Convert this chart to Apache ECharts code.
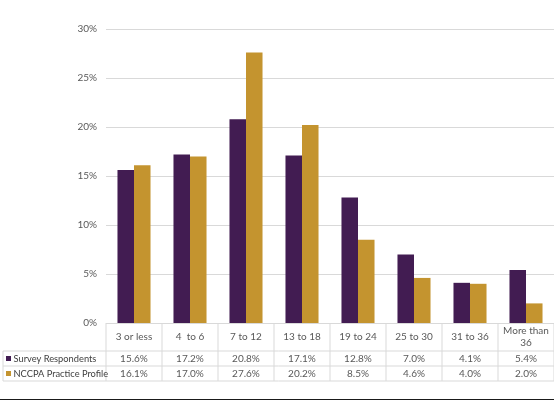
<!DOCTYPE html>
<html><head><meta charset="utf-8">
<script src="https://cdn.jsdelivr.net/npm/echarts@6/dist/echarts.min.js"></script>
<style>html,body{margin:0;padding:0;background:#fff}#c{width:554px;height:401px}</style>
</head><body><div id="c"></div>
<script>
const categories = ['3 or less', '4  to 6', '7 to 12', '13 to 18', '19 to 24', '25 to 30', '31 to 36', 'More than\n36'];
const seriesNames = ['Survey Respondents', 'NCCPA Practice Profile'];
const survey = [15.6, 17.2, 20.8, 17.1, 12.8, 7.0, 4.1, 5.4];
const nccpa = [16.1, 17.0, 27.6, 20.2, 8.5, 4.6, 4.0, 2.0];
const yTicks = [0, 5, 10, 15, 20, 25, 30];
const colors = ['#421c52', '#c4942f'];

const FONT = 'Lato';
const TXT = '#595959';
const LINE = '#d9d9d9';
const chart = echarts.init(document.getElementById('c'));
const gridL = 106, gridT = 29, gridW = 448, gridH = 294;
chart.setOption({
  animation: false,
  textStyle: { fontFamily: FONT },
  grid: { left: gridL, top: gridT, width: gridW, height: gridH },
  xAxis: { type: 'category', data: categories, axisLine: { show: false }, axisTick: { show: false }, axisLabel: { show: false } },
  yAxis: { type: 'value', min: yTicks[0], max: yTicks[yTicks.length - 1], interval: 5,
    axisLabel: { formatter: v => v + '%', color: TXT, fontSize: 10, fontFamily: FONT, margin: 9 },
    splitLine: { lineStyle: { color: LINE, width: 1 } } },
  series: [
    { name: seriesNames[0], type: 'bar', data: survey, itemStyle: { color: colors[0] }, barGap: '0%', barCategoryGap: '41%' },
    { name: seriesNames[1], type: 'bar', data: nccpa, itemStyle: { color: colors[1] }, barGap: '0%', barCategoryGap: '41%' }
  ]
});

// data table under the plot
const g = [];
const y0 = chart.convertToPixel({ yAxisIndex: 0 }, 0);
const rowH = [y0, 351, 366, 381];
const colW = gridW / categories.length;
const left0 = 3;
const lineStyle = { stroke: LINE, lineWidth: 1 };
g.push({ type: 'line', shape: { x1: left0, y1: rowH[1], x2: gridL + gridW, y2: rowH[1] }, style: lineStyle });
g.push({ type: 'line', shape: { x1: left0, y1: rowH[2], x2: gridL + gridW, y2: rowH[2] }, style: lineStyle });
g.push({ type: 'line', shape: { x1: left0, y1: rowH[3], x2: gridL + gridW, y2: rowH[3] }, style: lineStyle });
g.push({ type: 'line', shape: { x1: left0, y1: rowH[1], x2: left0, y2: rowH[3] }, style: lineStyle });
for (let i = 0; i <= categories.length; i++) {
  const x = gridL + i * colW;
  g.push({ type: 'line', shape: { x1: x, y1: rowH[0], x2: x, y2: rowH[3] }, style: lineStyle });
}
categories.forEach((c, i) => {
  const cx = chart.convertToPixel({ xAxisIndex: 0 }, i);
  g.push({ type: 'text', x: cx, y: (rowH[0] + rowH[1]) / 2, style: { text: c, fill: TXT, font: '10px ' + FONT, align: 'center', verticalAlign: 'middle', lineHeight: 12 } });
  g.push({ type: 'text', x: cx, y: (rowH[1] + rowH[2]) / 2, style: { text: survey[i].toFixed(1) + '%', fill: TXT, font: '10px ' + FONT, align: 'center', verticalAlign: 'middle' } });
  g.push({ type: 'text', x: cx, y: (rowH[2] + rowH[3]) / 2, style: { text: nccpa[i].toFixed(1) + '%', fill: TXT, font: '10px ' + FONT, align: 'center', verticalAlign: 'middle' } });
});
seriesNames.forEach((n, k) => {
  const cy = (rowH[k + 1] + rowH[k + 2]) / 2;
  g.push({ type: 'rect', shape: { x: 6, y: cy - 2.5, width: 5, height: 5 }, style: { fill: colors[k] } });
  g.push({ type: 'text', x: 13.5, y: cy, style: { text: n, fill: '#404040', font: '9.3px ' + FONT, align: 'left', verticalAlign: 'middle' } });
});
g.push({ type: 'line', shape: { x1: 0, y1: 399.5, x2: 554, y2: 399.5 }, style: { stroke: '#1a1a1a', lineWidth: 1.2 } });
chart.setOption({ graphic: g });
</script></body></html>
